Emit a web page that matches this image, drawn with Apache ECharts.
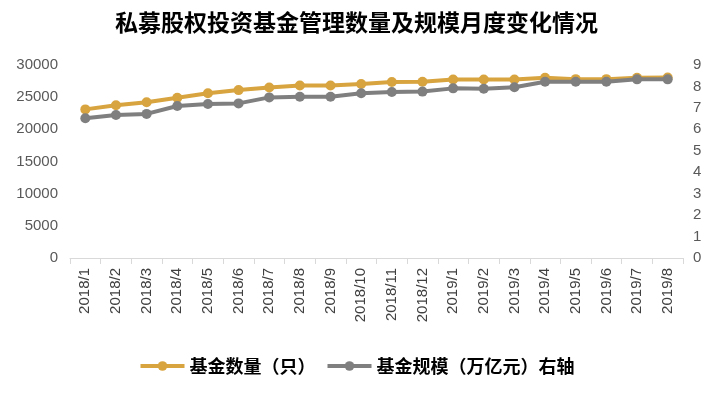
<!DOCTYPE html>
<html>
<head>
<meta charset="utf-8">
<script src="https://cdn.jsdelivr.net/npm/echarts@6/dist/echarts.min.js"></script>
<style>
  html, body { margin: 0; padding: 0; background: #fff; }
  #box { width: 713px; height: 398px; }
</style>
</head>
<body>
<div id="box"></div>
<script>
var months = ['2018/1', '2018/2', '2018/3', '2018/4', '2018/5', '2018/6', '2018/7', '2018/8', '2018/9', '2018/10',
    '2018/11', '2018/12', '2019/1', '2019/2', '2019/3', '2019/4', '2019/5', '2019/6', '2019/7', '2019/8'];
// 基金数量（只）
var fundCount = [23100, 23750, 24200, 24900, 25600, 26100, 26500, 26800, 26800, 27050,
    27350, 27400, 27750, 27750, 27750, 28000, 27800, 27800, 28000, 28050];
// 基金规模（万亿元）
var fundScale = [6.52, 6.67, 6.72, 7.09, 7.18, 7.21, 7.49, 7.52, 7.52, 7.68,
    7.74, 7.76, 7.91, 7.89, 7.96, 8.22, 8.22, 8.22, 8.33, 8.33];

var myChart = echarts.init(document.getElementById('box'));

var option = {
    title: {
        text: '私募股权投资基金管理数量及规模月度变化情况',
        left: 'center',
        top: 6,
        textStyle: {
            fontFamily: 'Noto Sans CJK SC',
            fontSize: 23,
            fontWeight: 'bold',
            color: '#000'
        }
    },
    legend: {
        bottom: 18,
        left: 'center',
        itemWidth: 44,
        itemHeight: 12,
        itemGap: 10,
        lineStyle: { width: 4 },
        textStyle: {
            fontFamily: 'Noto Sans CJK SC',
            fontSize: 18,
            fontWeight: 'bold',
            color: '#000'
        },
        data: ['基金数量（只）', '基金规模（万亿元）右轴']
    },
    grid: {
        left: 70,
        right: 30,
        top: 65,
        bottom: 140
    },
    xAxis: {
        type: 'category',
        data: months,
        boundaryGap: true,
        axisLine: { lineStyle: { color: '#d9d9d9', width: 1 } },
        axisTick: { show: true, length: 6, lineStyle: { color: '#d9d9d9' } },
        axisLabel: {
            interval: 0,
            rotate: 90,
            color: '#404040',
            fontFamily: 'Liberation Sans',
            fontSize: 15,
            margin: 10
        }
    },
    yAxis: [{
        type: 'value',
        min: 0,
        max: 30000,
        interval: 5000,
        axisLine: { show: false },
        axisTick: { show: false },
        splitLine: { show: false },
        axisLabel: {
            color: '#595959', fontFamily: 'Liberation Sans', fontSize: 15, margin: 12,
            formatter: function (v) { return String(v); }
        }
    }, {
        type: 'value',
        min: 0,
        max: 9,
        interval: 1,
        axisLine: { show: false },
        axisTick: { show: false },
        splitLine: { show: false },
        axisLabel: { color: '#595959', fontFamily: 'Liberation Sans', fontSize: 15, margin: 10 }
    }],
    series: [{
        name: '基金数量（只）',
        type: 'line',
        yAxisIndex: 0,
        data: fundCount,
        symbol: 'circle',
        symbolSize: 10,
        lineStyle: { color: '#d8a43f', width: 4 },
        itemStyle: { color: '#d8a43f' },
        z: 2
    }, {
        name: '基金规模（万亿元）右轴',
        type: 'line',
        yAxisIndex: 1,
        data: fundScale,
        symbol: 'circle',
        symbolSize: 10,
        lineStyle: { color: '#7f7f7f', width: 4 },
        itemStyle: { color: '#7f7f7f' },
        z: 3
    }]
};

myChart.setOption(option);
</script>
</body>
</html>
